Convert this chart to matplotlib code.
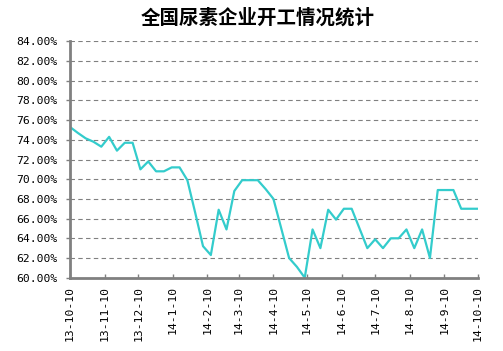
import matplotlib
matplotlib.use('Agg')
import matplotlib.pyplot as plt
import pandas as pd

plt.rcParams['font.family'] = ['Noto Sans CJK SC', 'DejaVu Sans']

# 数据：每周开工率（%）
title = '全国尿素企业开工情况统计'
start_date = '2013-10-10'
rates = [75.3, 74.7, 74.15, 73.8, 73.3, 74.3, 72.9, 73.7, 73.7, 71.0,
         71.8, 70.8, 70.8, 71.2, 71.2, 69.9, 66.6, 63.2, 62.3, 66.9,
         64.9, 68.8, 69.9, 69.9, 69.9, 69.0, 68.0, 65.0, 62.0, 61.1,
         60.0, 64.9, 63.0, 66.9, 65.9, 67.0, 67.0, 65.0, 63.0, 63.9,
         63.0, 64.0, 64.0, 64.9, 63.0, 64.9, 62.0, 68.9, 68.9, 68.9,
         67.0, 67.0, 67.0]
tick_dates = ['2013-10-10', '2013-11-10', '2013-12-10', '2014-1-10', '2014-2-10',
              '2014-3-10', '2014-4-10', '2014-5-10', '2014-6-10', '2014-7-10',
              '2014-8-10', '2014-9-10', '2014-10-10']
tick_labels = ['13-10-10', '13-11-10', '13-12-10', '14-1-10', '14-2-10',
               '14-3-10', '14-4-10', '14-5-10', '14-6-10', '14-7-10',
               '14-8-10', '14-9-10', '14-10-10']
y_ticks = [60, 62, 64, 66, 68, 70, 72, 74, 76, 78, 80, 82, 84]

dates = pd.date_range(start_date, periods=len(rates), freq='7D')

fig = plt.figure(figsize=(5.03, 3.51), dpi=100)
ax = fig.add_axes([70 / 503, (351 - 277.7) / 351, 408 / 503, 236.4 / 351])

ax.plot(dates, rates, color='#33CCCC', linewidth=1.6)

ax.set_ylim(60, 84)
ax.set_yticks(y_ticks)
ax.set_yticklabels(['%.2f%%' % v for v in y_ticks], fontsize=8.2,
                   family='DejaVu Sans Mono')
ax.set_xlim(pd.Timestamp('2013-10-10'), pd.Timestamp('2014-10-10'))
ax.set_xticks(pd.to_datetime(tick_dates))
ax.set_xticklabels(tick_labels, rotation=90, fontsize=8.2,
                   family='DejaVu Sans Mono')

# 网格与坐标轴
ax.grid(axis='y', color='#808080', linestyle=(0, (4, 3)), linewidth=0.8)
ax.set_axisbelow(True)
for s in ['top', 'right']:
    ax.spines[s].set_visible(False)
for s in ['left', 'bottom']:
    ax.spines[s].set_color('#808080')
    ax.spines[s].set_linewidth(2)
ax.tick_params(axis='x', direction='in', length=3, color='#808080', width=1,
               pad=6)
ax.tick_params(axis='y', direction='out', length=3, color='#808080', width=1,
               pad=6)

fig.text(258 / 503, 1 - 18 / 351, title, ha='center', va='center',
         fontsize=14, fontweight='bold')

fig.savefig('out.png', dpi=100)
